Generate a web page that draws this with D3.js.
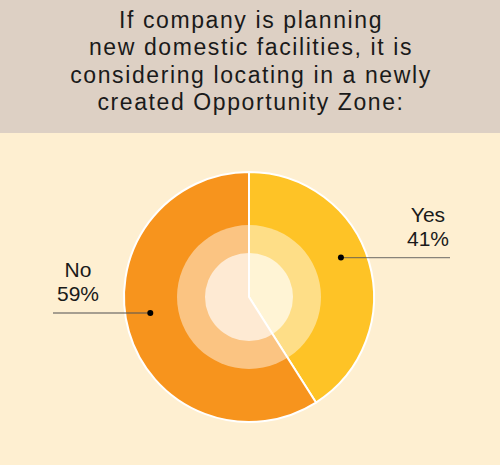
<!DOCTYPE html>
<html>
<head>
<meta charset="utf-8">
<script src="https://cdn.jsdelivr.net/npm/d3@7"></script>
<style>
body { margin: 0; background: #feefd1; }
svg { display: block; }
text { font-family: "Liberation Sans", sans-serif; fill: #1a1a1a; }
</style>
</head>
<body>
<svg id="chart" width="500" height="465"></svg>
<script>
var categories = ["Yes", "No"];
var values = [41, 59];
var labels = ["41%", "59%"];
var titleLines = ["If company is planning", "new domestic facilities, it is", "considering locating in a newly", "created Opportunity Zone:"];

var svg = d3.select("#chart");
var width = 500, height = 465;
var cx = 249, cy = 297;
var outerR = 125, midR = 72, innerR = 44;

// header band
svg.append("rect").attr("x", 0).attr("y", 0).attr("width", width).attr("height", 133).attr("fill", "#ddd0c4");
svg.append("rect").attr("x", 0).attr("y", 133).attr("width", width).attr("height", height - 133).attr("fill", "#feefd1");

svg.append("text")
	.attr("text-anchor", "middle")
	.style("font-size", "23px")
	.style("letter-spacing", "1.6px")
	.selectAll("tspan")
	.data(titleLines)
	.enter().append("tspan")
	.attr("x", 251)
	.attr("y", function(d, i){ return 28 + i * 27.3; })
	.text(function(d){ return d; });

var color = d3.scaleOrdinal().domain(categories).range(["#fec326", "#f7941d"]);

var pie = d3.pie().sort(null).value(function(d){ return d; });
var arcs = pie(values);
var arc = d3.arc().innerRadius(0).outerRadius(outerR);

var g = svg.append("g").attr("transform", "translate(" + cx + "," + cy + ")");

g.selectAll("path")
	.data(arcs)
	.enter().append("path")
	.attr("d", arc)
	.attr("fill", function(d, i){ return color(categories[i]); })
	.attr("stroke", "#fff")
	.attr("stroke-width", 2)
	.attr("stroke-linejoin", "round");

// white translucent rings
g.append("circle").attr("r", midR).attr("fill", "#fff").attr("fill-opacity", 0.45);
g.append("circle").attr("r", innerR).attr("fill", "#fff").attr("fill-opacity", 0.65);

// leader dots and labels
var dotR = 100;
var angleShift = [-7, 7];
var lineEnd = [450, 53];
var textX = [428, 78];

arcs.forEach(function(a, i){
	var ang = (a.startAngle + a.endAngle) / 2 + angleShift[i] * Math.PI / 180;
	var px = cx + Math.sin(ang) * dotR;
	var py = cy - Math.cos(ang) * dotR;
	svg.append("line")
		.attr("x1", px).attr("y1", py)
		.attr("x2", lineEnd[i]).attr("y2", py)
		.attr("stroke", "#555")
		.attr("stroke-opacity", 0.7)
		.attr("stroke-width", 1.3);
	svg.append("circle").attr("cx", px).attr("cy", py).attr("r", 3).attr("fill", "#000");
	svg.append("text").attr("x", textX[i]).attr("y", py - 36)
		.attr("text-anchor", "middle").style("font-size", "21px").text(categories[i]);
	svg.append("text").attr("x", textX[i]).attr("y", py - 12)
		.attr("text-anchor", "middle").style("font-size", "21px").text(labels[i]);
});
</script>
</body>
</html>
